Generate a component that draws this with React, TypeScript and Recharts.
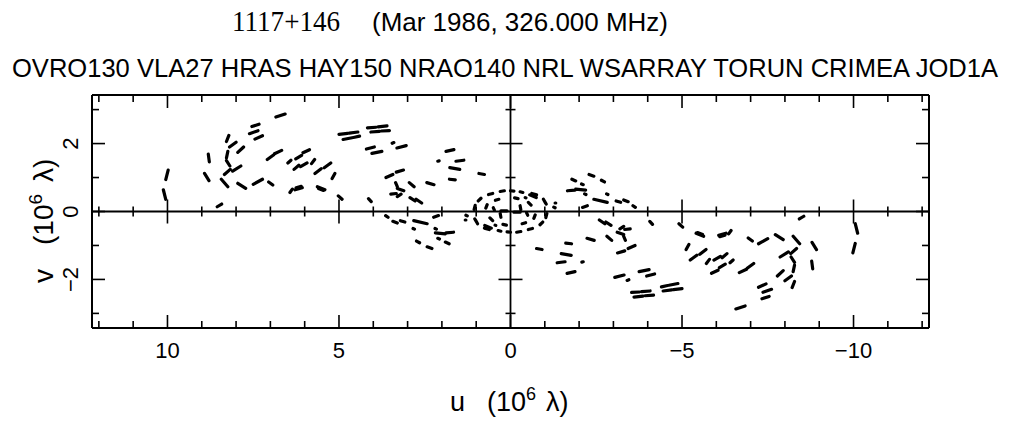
import React from "react";
import { ComposedChart, Line, XAxis, YAxis, ReferenceLine } from "recharts";

// each dash: [u1, v1, u2, v2] in units of 10^6 wavelengths (u > 0 half only,
// the other half of the plane is the conjugate point (-u, -v))
type Dash = [number, number, number, number];

const outerArc: Dash[] = [
  [9.98, 1.22, 10.05, 0.94],
  [10.12, 0.64, 10.05, 0.36],
  [8.81, 1.69, 8.78, 1.46],
  [8.92, 1.12, 8.79, 0.91],
  [8.55, 0.14, 8.42, 0.22],
  [8.21, 2.24, 8.28, 2.06],
  [8.24, 1.77, 8.28, 1.58],
  [8.28, 1.5, 8.18, 1.34],
  [8.34, 1.09, 8.17, 1.24],
  [8.43, 0.95, 8.24, 0.73],
  [8.19, 1.9, 8.0, 2.04],
  [7.95, 1.74, 7.78, 1.9],
  [8.1, 1.19, 7.86, 1.34],
  [7.95, 0.83, 7.72, 0.68],
  [7.5, 0.8, 7.23, 0.95],
  [7.05, 0.87, 6.93, 0.78],
];

const midBaselines: Dash[] = [
  [7.54, 2.5, 7.33, 2.57],
  [7.61, 2.29, 7.36, 2.38],
  [7.45, 2.13, 7.23, 2.23],
  [6.84, 2.78, 6.57, 2.87],
  [7.09, 1.53, 6.9, 1.67],
  [6.88, 1.7, 6.67, 1.8],
  [6.49, 1.43, 6.4, 1.51],
  [6.26, 1.55, 6.09, 1.65],
  [6.05, 1.73, 5.86, 1.82],
  [6.31, 1.24, 6.17, 1.36],
  [6.12, 1.32, 5.93, 1.43],
  [5.8, 1.41, 5.71, 1.53],
  [5.7, 1.12, 5.52, 1.26],
  [5.43, 1.29, 5.24, 1.43],
  [5.2, 0.97, 5.12, 1.12],
  [6.43, 0.56, 6.36, 0.66],
  [6.28, 0.64, 6.07, 0.7],
  [6.25, 0.7, 6.1, 0.74],
  [5.63, 0.73, 5.41, 0.64],
  [5.6, 0.68, 5.45, 0.62],
  [5.02, 0.46, 4.91, 0.36],
  [4.14, 0.38, 4.06, 0.29],
];

const bandRows: Dash[] = [
  [5.0, 2.27, 4.75, 2.3],
  [4.7, 2.31, 4.45, 2.34],
  [4.88, 2.12, 4.62, 2.17],
  [4.58, 2.18, 4.4, 2.22],
  [4.17, 2.46, 3.92, 2.48],
  [3.86, 2.49, 3.6, 2.52],
  [4.07, 2.34, 3.82, 2.36],
  [3.76, 2.37, 3.53, 2.38],
];

const shortBaselines: Dash[] = [
  [4.2, 1.84, 3.97, 1.9],
  [4.04, 1.71, 3.75, 1.77],
  [3.45, 2.01, 3.4, 2.03],
  [3.31, 1.87, 3.04, 1.94],
  [1.88, 1.77, 1.65, 1.82],
  [2.12, 1.48, 2.08, 1.49],
  [1.59, 1.48, 1.36, 1.51],
  [1.77, 1.29, 1.48, 1.24],
  [1.78, 0.95, 1.61, 0.93],
  [0.92, 1.12, 0.76, 1.09],
  [3.63, 1.0, 3.43, 1.09],
  [3.33, 1.16, 3.12, 1.22],
  [3.35, 0.85, 3.3, 0.73],
  [3.3, 0.68, 3.11, 0.61],
  [2.95, 0.85, 2.81, 0.73],
  [3.49, 0.51, 3.33, 0.53],
  [3.3, 0.44, 3.19, 0.51],
  [2.93, 0.41, 2.78, 0.31],
  [2.75, 0.36, 2.59, 0.25],
  [2.44, 0.85, 2.23, 0.79],
];

const belowAxis: Dash[] = [
  [3.64, -0.12, 3.57, -0.17],
  [3.43, -0.29, 3.3, -0.34],
  [3.21, -0.27, 3.08, -0.31],
  [2.82, -0.27, 2.43, -0.36],
  [2.24, -0.17, 2.1, -0.12],
  [2.84, -0.5, 2.8, -0.52],
  [2.2, -0.5, 2.16, -0.52],
  [2.19, -0.63, 1.9, -0.66],
  [1.88, -0.63, 1.66, -0.61],
  [2.12, -0.79, 2.07, -0.81],
  [1.9, -0.9, 1.79, -0.95],
  [2.74, -0.87, 2.65, -0.92],
  [2.43, -1.04, 2.29, -1.09],
  [1.3, -0.11, 1.26, -0.13],
  [1.04, -0.22, 0.99, -0.31],
  [0.75, -0.41, 0.56, -0.49],
];

const centerRing: Dash[] = [
  [1.06, 0.06, 1.03, 0.18],
  [0.94, 0.31, 0.86, 0.39],
  [0.64, 0.5, 0.52, 0.53],
  [0.3, 0.59, 0.18, 0.61],
  [0.0, 0.61, -0.1, 0.6],
  [-0.28, 0.58, -0.36, 0.56],
  [-0.62, 0.53, -0.76, 0.49],
  [-0.96, 0.36, -1.02, 0.25],
  [0.72, 0.1, 0.68, 0.2],
  [0.44, 0.33, 0.34, 0.36],
  [-0.12, 0.4, -0.22, 0.38],
  [-0.43, 0.41, -0.45, 0.4],
  [-0.52, 0.27, -0.6, 0.19],
  [0.28, 0.02, 0.1, 0.02],
  [-0.28, 0.17, -0.3, 0.06],
  [0.5, 0.11, 0.47, 0.04],
  [-1.32, 0.25, -1.3, 0.25],
];

const uTicks = [-12, -11, -10, -9, -8, -7, -6, -5, -4, -3, -2, -1, 0, 1, 2, 3, 4, 5, 6, 7, 8, 9, 10, 11, 12];
const vTicks = [-3, -2, -1, 0, 1, 2, 3];
const uLabels = [10, 5, 0, -5, -10];
const vLabels = [2, 0, -2];

const U_MAX = 12.2;
const V_MAX = 3.43;
const PLOT_W = 837;
const PLOT_H = 233;
const PX_U = PLOT_W / (2 * U_MAX);
const PX_V = PLOT_H / (2 * V_MAX);

const FONT = "'Liberation Sans', Arial, sans-serif";

const allDashes = [outerArc, midBaselines, bandRows, shortBaselines, belowAxis, centerRing].flat();

// dash endpoints plus their conjugates, a null after each dash breaks the line
const lineData: { u: number; v: number | null }[] = [];
allDashes.forEach(([u1, v1, u2, v2]) => {
  lineData.push({ u: u1, v: v1 }, { u: u2, v: v2 }, { u: u2, v: null });
  lineData.push({ u: -u1, v: -v1 }, { u: -u2, v: -v2 }, { u: -u2, v: null });
});

const fmt = (n: number) => (n < 0 ? "\u2212" + Math.abs(n) : String(n));

const BottomTick = ({ x, y, payload }: any) => {
  const val = payload.value;
  const len = val % 5 === 0 ? 13 : 7;
  return (
    <g>
      <line x1={x} x2={x} y1={y} y2={y - len} stroke="#000" strokeWidth={1.6} />
      {uLabels.includes(val) && (
        <text x={x} y={y + 30} textAnchor="middle" fontFamily={FONT} fontSize={22} fill="#000">
          {fmt(val)}
        </text>
      )}
    </g>
  );
};

const TopTick = ({ x, y, payload }: any) => {
  const len = payload.value % 5 === 0 ? 13 : 7;
  return <line x1={x} x2={x} y1={y} y2={y + len} stroke="#000" strokeWidth={1.6} />;
};

const LeftTick = ({ x, y, payload }: any) => {
  const val = payload.value;
  const len = val % 2 === 0 ? 13 : 7;
  const tx = x - 14;
  return (
    <g>
      <line x1={x} x2={x + len} y1={y} y2={y} stroke="#000" strokeWidth={1.6} />
      {vLabels.includes(val) && (
        <text
          x={tx}
          y={y}
          transform={`rotate(-90 ${tx} ${y})`}
          textAnchor="middle"
          fontFamily={FONT}
          fontSize={22}
          fill="#000"
        >
          {fmt(val)}
        </text>
      )}
    </g>
  );
};

const RightTick = ({ x, y, payload }: any) => {
  const len = payload.value % 2 === 0 ? 13 : 7;
  return <line x1={x} x2={x - len} y1={y} y2={y} stroke="#000" strokeWidth={1.6} />;
};

const axisLine = { stroke: "#000", strokeWidth: 2 };

export default function App() {
  return (
    <div style={{ position: "absolute", left: 0, top: 0, width: 1010, height: 421, background: "#fff" }}>
      <ComposedChart
        width={1010}
        height={421}
        data={lineData}
        margin={{ top: 65, right: 21, bottom: 63, left: 32 }}
      >
        <XAxis
          xAxisId={0}
          dataKey="u"
          type="number"
          domain={[-U_MAX, U_MAX]}
          reversed
          allowDataOverflow
          ticks={uTicks}
          interval={0}
          height={30}
          tickSize={0}
          tickMargin={0}
          tickLine={false}
          tick={BottomTick}
          axisLine={axisLine}
        />
        <XAxis
          xAxisId="top"
          dataKey="u"
          orientation="top"
          type="number"
          domain={[-U_MAX, U_MAX]}
          reversed
          allowDataOverflow
          ticks={uTicks}
          interval={0}
          height={30}
          tickSize={0}
          tickMargin={0}
          tickLine={false}
          tick={TopTick}
          axisLine={axisLine}
        />
        <YAxis
          yAxisId={0}
          dataKey="v"
          type="number"
          domain={[-V_MAX, V_MAX]}
          allowDataOverflow
          ticks={vTicks}
          interval={0}
          width={60}
          tickSize={0}
          tickMargin={0}
          tickLine={false}
          tick={LeftTick}
          axisLine={axisLine}
        />
        <YAxis
          yAxisId="right"
          dataKey="v"
          orientation="right"
          type="number"
          domain={[-V_MAX, V_MAX]}
          allowDataOverflow
          ticks={vTicks}
          interval={0}
          width={60}
          tickSize={0}
          tickMargin={0}
          tickLine={false}
          tick={RightTick}
          axisLine={axisLine}
        />
        <ReferenceLine x={0} stroke="#000" strokeWidth={1.8} />
        <ReferenceLine y={0} stroke="#000" strokeWidth={1.8} />
        {uTicks
          .filter((u) => u !== 0)
          .map((u) => {
            const d = (u % 5 === 0 ? 12 : 5) / PX_V;
            return (
              <ReferenceLine
                key={"cu" + u}
                segment={[{ x: u, y: -d }, { x: u, y: d }]}
                stroke="#000"
                strokeWidth={1.6}
              />
            );
          })}
        {vTicks
          .filter((v) => v !== 0)
          .map((v) => {
            const d = (v % 2 === 0 ? 12 : 5) / PX_U;
            return (
              <ReferenceLine
                key={"cv" + v}
                segment={[{ x: -d, y: v }, { x: d, y: v }]}
                stroke="#000"
                strokeWidth={1.6}
              />
            );
          })}
        <Line
          dataKey="v"
          type="linear"
          stroke="#000"
          strokeWidth={3.2}
          strokeLinecap="round"
          dot={false}
          activeDot={false}
          connectNulls={false}
          isAnimationActive={false}
        />
      </ComposedChart>
      <svg
        width={1010}
        height={421}
        style={{ position: "absolute", left: 0, top: 0, pointerEvents: "none" }}
      >
        <text x={232} y={31} fontFamily="'Liberation Serif', 'Times New Roman', serif" fontSize={30} textLength={108} lengthAdjust="spacingAndGlyphs" fill="#000">
          1117+146
        </text>
        <text x={372} y={31} fontFamily={FONT} fontSize={25} textLength={296} lengthAdjust="spacingAndGlyphs" fill="#000">
          (Mar 1986, 326.000 MHz)
        </text>
        <g transform="translate(12 77) scale(1 1.06)">
          <text x={0} y={0} fontFamily={FONT} fontSize={25} textLength={986} lengthAdjust="spacingAndGlyphs" fill="#000">
            OVRO130 VLA27 HRAS HAY150 NRAO140 NRL WSARRAY TORUN CRIMEA JOD1A
          </text>
        </g>
        <text x={450} y={411} fontFamily={FONT} fontSize={27} fill="#000">
          u
          <tspan dx={22}>(10</tspan>
          <tspan dy={-11} fontSize={18}>6</tspan>
          <tspan dy={11} dx={10}>λ)</tspan>
        </text>
        <g transform="translate(53 283) rotate(-90)">
          <text x={0} y={0} fontFamily={FONT} fontSize={28} fill="#000">
            v
            <tspan dx={24}>(10</tspan>
            <tspan dy={-11} fontSize={19}>6</tspan>
            <tspan dy={11} dx={12}>λ)</tspan>
          </text>
        </g>
      </svg>
    </div>
  );
}
